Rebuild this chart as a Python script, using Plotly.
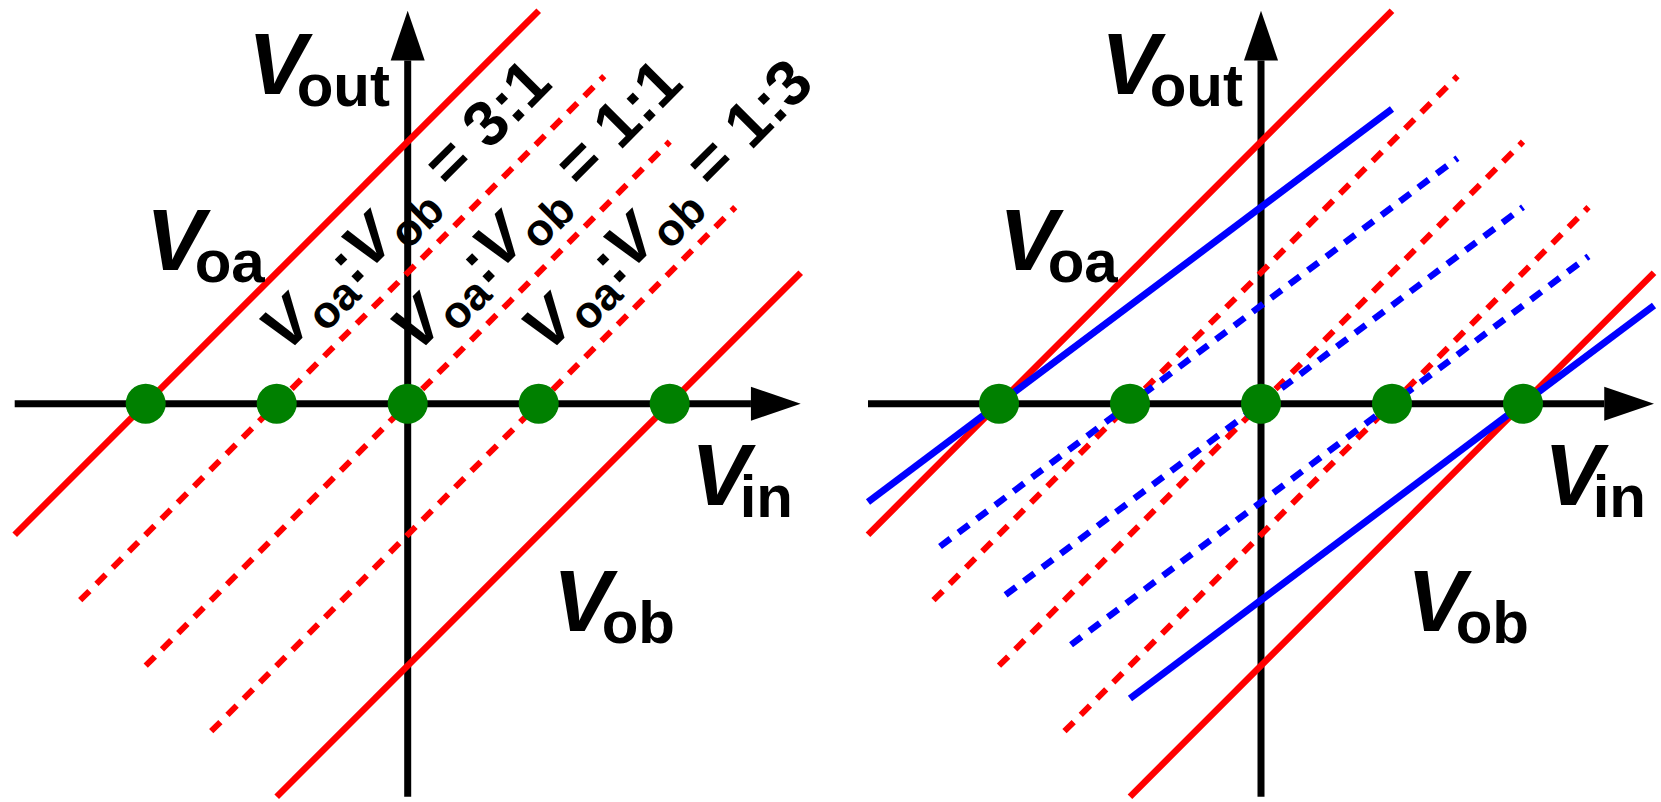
import plotly.graph_objects as go

# ---- data (axis units: one unit between neighbouring crossing points) ----
# Vin values where the transfer lines cross Vout = 0
crossings = [-2, -1, 0, 1, 2]
crossing_vout = [0, 0, 0, 0, 0]

# red transfer lines (identical in both panels): Vin end points, Vout end points
red_voa_x = [-3.0, 1.0]
red_voa_y = [-1.0, 3.0]
red_31_x = [-2.5, 1.5]
red_31_y = [-1.5, 2.5]
red_11_x = [-2.0, 2.0]
red_11_y = [-2.0, 2.0]
red_13_x = [-1.5, 2.5]
red_13_y = [-2.5, 1.5]
red_vob_x = [-1.0, 3.0]
red_vob_y = [-3.0, 1.0]

# blue transfer lines (right panel only)
blue_voa_x = [-3.0, 1.0]
blue_voa_y = [-0.75, 2.25]
blue_31_x = [-2.45, 1.5]
blue_31_y = [-1.09, 1.875]
blue_11_x = [-1.95, 2.0]
blue_11_y = [-1.46, 1.5]
blue_13_x = [-1.45, 2.5]
blue_13_y = [-1.84, 1.125]
blue_vob_x = [-1.0, 3.0]
blue_vob_y = [-2.25, 0.75]

# axis extent
axis_lo = -3.0
axis_hi = 3.0

# ratio labels along the dotted lines (left panel)
ratio_texts = ["3:1", "1:1", "1:3"]
ratio_x = [0.0, 1.0, 2.0]
ratio_y = [1.5, 1.5, 1.5]

# upright labels: subscript and centre of the big V
label_subs = ["out", "oa", "in", "ob"]
label_x = [-1.0, -1.775, 2.384, 1.334]
label_y = [2.61, 1.267, -0.528, -1.488]

# ---- styling / geometry ----
W, H = 1661, 802
UNIT = 131.0            # px per axis unit
ORIGIN_PX = [407.7, 1261.0]
ORIGIN_PY = 403.7
SPLIT = W / 2
FONT = "Liberation Sans, Arial, sans-serif"
RED = "#ff0000"
BLUE = "#0000ff"
GREEN = "#008000"
DOTTED = "13px,10px"
HEAD_LEN = 0.38
HEAD_HALF = 0.13

fig = go.Figure()
panels = [("x", "y"), ("x2", "y2")]


def line(xa, ya, xs, ys, color, width, dash=None):
    fig.add_trace(go.Scatter(
        x=xs, y=ys, xaxis=xa, yaxis=ya, mode="lines",
        line=dict(color=color, width=width, dash=dash),
        hoverinfo="skip", showlegend=False))


def head(xa, ya, xs, ys):
    fig.add_trace(go.Scatter(
        x=xs, y=ys, xaxis=xa, yaxis=ya, mode="lines", fill="toself",
        fillcolor="black", line=dict(color="black", width=0),
        hoverinfo="skip", showlegend=False))


for xa, ya in panels:
    # axes with arrow heads
    line(xa, ya, [axis_lo, axis_hi - HEAD_LEN], [0, 0], "black", 7)
    line(xa, ya, [0, 0], [axis_lo, axis_hi - HEAD_LEN], "black", 7)
    head(xa, ya, [axis_hi - HEAD_LEN, axis_hi, axis_hi - HEAD_LEN, axis_hi - HEAD_LEN],
         [HEAD_HALF, 0, -HEAD_HALF, HEAD_HALF])
    head(xa, ya, [HEAD_HALF, 0, -HEAD_HALF, HEAD_HALF],
         [axis_hi - HEAD_LEN, axis_hi, axis_hi - HEAD_LEN, axis_hi - HEAD_LEN])

    # red lines
    line(xa, ya, red_voa_x, red_voa_y, RED, 6.5)
    line(xa, ya, red_vob_x, red_vob_y, RED, 6.5)
    for xs, ys in [(red_31_x, red_31_y), (red_11_x, red_11_y), (red_13_x, red_13_y)]:
        line(xa, ya, xs, ys, RED, 6, DOTTED)

# blue lines in the right panel
line("x2", "y2", blue_voa_x, blue_voa_y, BLUE, 7)
line("x2", "y2", blue_vob_x, blue_vob_y, BLUE, 7)
for xs, ys in [(blue_31_x, blue_31_y), (blue_11_x, blue_11_y), (blue_13_x, blue_13_y)]:
    line("x2", "y2", xs, ys, BLUE, 6.5, DOTTED)

# crossing points
for xa, ya in panels:
    fig.add_trace(go.Scatter(
        x=crossings, y=crossing_vout, xaxis=xa, yaxis=ya, mode="markers",
        marker=dict(color=GREEN, size=40, line=dict(width=0)),
        hoverinfo="skip", showlegend=False))

annotations = []
# V with a lowered, tucked-in subscript, written as one text
for xa, ya in panels:
    for sub, lx, ly in zip(label_subs, label_x, label_y):
        annotations.append(dict(
            x=lx, y=ly, xref=xa, yref=ya,
            text=("<span style='letter-spacing:-10px'><b><i>V</i></b></span>"
                  "<span style='font-size:60px;baseline-shift:-12px'><b>" + sub + "</b></span>"),
            showarrow=False, xanchor="left", yanchor="top",
            xshift=-29, yshift=48, borderpad=0, borderwidth=0,
            font=dict(family=FONT, size=88, color="black")))

for txt, lx, ly in zip(ratio_texts, ratio_x, ratio_y):
    annotations.append(dict(
        x=lx, y=ly, xref="x", yref="y",
        text="<b><i>V</i><sub>oa</sub>:<i>V</i><sub>ob</sub> = " + txt + "</b>",
        showarrow=False, textangle=-45, xanchor="center", yanchor="middle",
        borderpad=0, borderwidth=0,
        font=dict(family=FONT, size=64, color="black")))

y_range = [-(H - ORIGIN_PY) / UNIT, ORIGIN_PY / UNIT]
hidden = dict(visible=False, showgrid=False, zeroline=False, fixedrange=True)

fig.update_layout(
    width=W, height=H,
    margin=dict(l=0, r=0, t=0, b=0, pad=0),
    paper_bgcolor="white", plot_bgcolor="white",
    showlegend=False,
    annotations=annotations,
    xaxis=dict(domain=[0, SPLIT / W],
               range=[-ORIGIN_PX[0] / UNIT, (SPLIT - ORIGIN_PX[0]) / UNIT], **hidden),
    yaxis=dict(domain=[0, 1], range=y_range, anchor="x", **hidden),
    xaxis2=dict(domain=[SPLIT / W, 1],
                range=[(SPLIT - ORIGIN_PX[1]) / UNIT, (W - ORIGIN_PX[1]) / UNIT],
                anchor="y2", **hidden),
    yaxis2=dict(domain=[0, 1], range=y_range, anchor="x2", **hidden),
)

fig.write_html("out.html", config={"displayModeBar": False})
